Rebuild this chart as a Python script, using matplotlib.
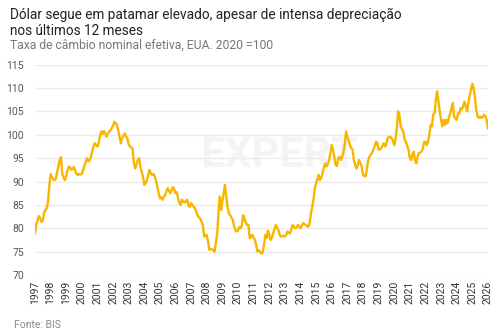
import numpy as np
import pandas as pd
import matplotlib
matplotlib.use("Agg")
import matplotlib.pyplot as plt
import matplotlib.dates as mdates

# BIS nominal effective exchange rate, USA (2020 = 100), monthly, Jan 1997 - Jan 2026
values = [
    # 1997
    79.0, 80.8, 81.6, 82.6, 82.2, 81.4, 81.6, 83.2, 83.9, 84.3, 85.6, 88.9,
    # 1998
    91.6, 91.0, 90.5, 90.3, 90.6, 92.0, 93.2, 94.6, 95.2, 91.6, 90.9, 90.3,
    # 1999
    91.2, 92.4, 93.2, 93.0, 92.5, 92.8, 93.1, 92.3, 91.6, 91.4, 91.6, 91.5,
    # 2000
    91.6, 92.5, 93.4, 94.2, 95.0, 94.3, 94.5, 95.3, 96.5, 97.5, 98.2, 97.8,
    # 2001
    97.5, 98.3, 99.8, 100.7, 100.2, 100.8, 100.3, 99.6, 100.2, 100.7, 101.0, 101.4,
    # 2002
    102.0, 102.8, 102.5, 102.1, 101.0, 99.6, 98.2, 99.3, 99.8, 100.3, 99.6, 99.3,
    # 2003
    97.9, 97.5, 97.3, 97.1, 94.0, 92.8, 93.6, 94.6, 95.0, 93.3, 92.1, 91.0,
    # 2004
    89.3, 89.6, 90.3, 91.3, 92.5, 91.8, 91.4, 91.6, 91.1, 90.2, 88.9, 87.5,
    # 2005
    86.4, 86.6, 86.1, 86.8, 87.0, 87.9, 88.6, 88.0, 87.5, 88.2, 88.8, 88.3,
    # 2006
    87.5, 87.7, 86.4, 85.4, 85.0, 86.1, 85.7, 85.5, 85.9, 86.1, 84.8, 84.6,
    # 2007
    85.4, 85.0, 84.6, 84.3, 83.5, 82.8, 82.3, 82.1, 81.4, 80.7, 78.2, 78.6,
    # 2008
    78.5, 77.1, 75.4, 75.6, 75.5, 75.3, 75.0, 77.0, 78.9, 83.2, 86.8, 83.9,
    # 2009
    86.0, 87.5, 89.3, 86.8, 84.5, 83.2, 82.8, 82.3, 81.8, 80.5, 79.6, 79.3,
    # 2010
    79.6, 80.3, 80.0, 80.6, 82.8, 82.1, 81.2, 80.7, 80.7, 77.9, 78.1, 78.6,
    # 2011
    78.0, 77.5, 76.4, 75.0, 75.3, 75.0, 74.6, 74.8, 76.5, 78.6, 77.9, 79.5,
    # 2012
    78.6, 77.5, 78.0, 78.9, 79.8, 80.7, 80.2, 79.6, 78.6, 78.2, 78.3, 78.4,
    # 2013
    78.2, 78.6, 79.3, 79.0, 78.9, 79.8, 80.7, 80.3, 80.0, 80.2, 80.7, 80.4,
    # 2014
    80.0, 80.6, 81.1, 80.9, 80.7, 80.5, 80.3, 81.1, 83.2, 84.5, 86.1, 88.6,
    # 2015
    89.6, 90.5, 91.4, 90.3, 90.8, 91.8, 93.0, 93.9, 93.2, 93.8, 94.6, 96.1,
    # 2016
    97.8, 96.8, 95.3, 93.6, 93.3, 95.0, 95.3, 94.6, 95.3, 96.2, 98.0, 100.7,
    # 2017
    99.6, 98.7, 97.8, 97.2, 96.8, 94.6, 93.6, 92.8, 93.5, 94.6, 93.9, 93.3,
    # 2018
    91.4, 91.2, 91.1, 92.5, 94.5, 95.3, 95.8, 96.1, 96.8, 97.5, 98.5, 98.3,
    # 2019
    96.8, 96.9, 97.1, 97.6, 98.2, 97.5, 98.0, 99.3, 99.5, 99.6, 99.2, 98.9,
    # 2020
    97.8, 99.0, 101.4, 105.0, 104.3, 101.8, 101.2, 100.7, 98.9, 98.5, 97.6, 96.8,
    # 2021
    95.0, 94.6, 95.7, 96.4, 94.6, 93.9, 95.3, 96.1, 96.2, 96.4, 97.1, 98.5,
    # 2022
    98.5, 97.8, 98.5, 100.0, 102.1, 101.8, 104.3, 104.6, 107.5, 109.3, 107.1, 105.0,
    # 2023
    103.2, 101.8, 103.2, 102.1, 103.2, 102.5, 103.6, 104.5, 105.7, 106.8, 103.9, 103.5,
    # 2024
    103.2, 104.6, 104.6, 105.7, 105.4, 106.2, 107.1, 106.0, 105.0, 106.8, 108.5, 109.6,
    # 2025
    110.9, 110.0, 108.2, 105.4, 104.0, 103.6, 103.9, 103.6, 103.8, 104.3, 104.0, 103.2,
    # 2026
    101.4,
]
dates = pd.date_range("1997-01-01", periods=len(values), freq="MS")
years = list(range(1997, 2027))
yticks = [70, 75, 80, 85, 90, 95, 100, 105, 110, 115]

title = "Dólar segue em patamar elevado, apesar de intensa depreciação\nnos últimos 12 meses"
subtitle = "Taxa de câmbio nominal efetiva, EUA. 2020 =100"
source = "Fonte: BIS"

plt.rcParams['font.family'] = ['Roboto', 'DejaVu Sans']

fig = plt.figure(figsize=(5.02, 3.35), dpi=100)
ax = fig.add_axes([0.0697, 0.179, 0.9023, 0.628])

# faint watermark
ax.text(0.54, 0.57, "EXPERT", transform=ax.transAxes, ha="center", va="center",
        fontsize=31, fontweight="bold", color="#f4f4f4", zorder=0)

ax.plot(dates, values, color="#F7B600", linewidth=1.7, zorder=3)

ax.set_ylim(70, 115)
ax.set_yticks(yticks)
ax.set_xlim(pd.Timestamp("1997-01-01"), pd.Timestamp("2026-01-01"))
ax.set_xticks([pd.Timestamp(f"{y}-01-01") for y in years])
ax.set_xticklabels([str(y) for y in years], rotation=90)
ax.grid(axis="y", color="#ececec", linewidth=1)
ax.set_axisbelow(True)
for s in ax.spines.values():
    s.set_visible(False)
ax.tick_params(axis="both", length=0)
ax.tick_params(axis="y", labelsize=7.5, labelcolor="#555555", pad=8)
ax.tick_params(axis="x", labelsize=7.5, labelcolor="#333333", pad=4)

fig.text(0.02, 0.975, title, ha="left", va="top", fontsize=9.8, color="#222222",
         linespacing=1.15)
fig.text(0.02, 0.885, subtitle, ha="left", va="top", fontsize=8.7, color="#777777")
fig.text(0.028, 0.015, source, ha="left", va="bottom", fontsize=7.5, color="#888888")

fig.savefig("out.png", dpi=100)
